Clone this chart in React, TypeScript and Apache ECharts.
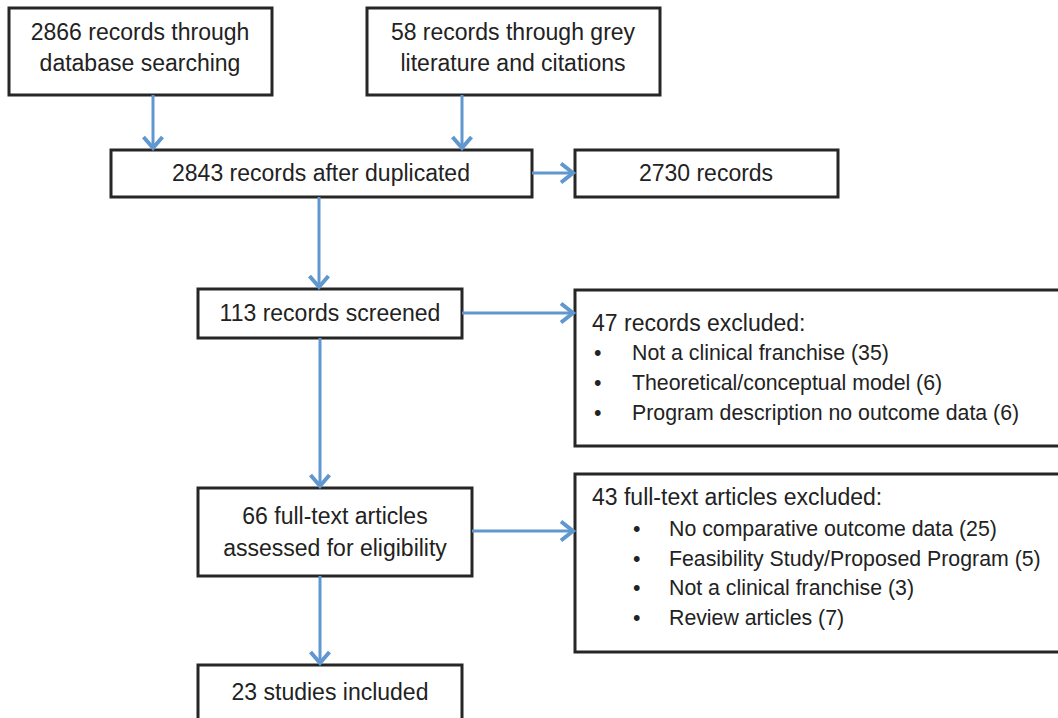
import React, { useEffect, useRef } from "react";
import * as echarts from "echarts";

// ---- content (texts only) ----
const sourceLabels = ["2866 records through", "database searching"];
const greyLabels = ["58 records through grey", "literature and citations"];
const dedupLabel = "2843 records after duplicated";
const removedLabel = "2730 records";
const screenedLabel = "113 records screened";
const fullTextLabels = ["66 full-text articles", "assessed for eligibility"];
const includedLabel = "23 studies included";
const screenExclTitle = "47 records excluded:";
const screenExclItems = [
  "Not a clinical franchise (35)",
  "Theoretical/conceptual model (6)",
  "Program description no outcome data (6)",
];
const fullExclTitle = "43 full-text articles excluded:";
const fullExclItems = [
  "No comparative outcome data (25)",
  "Feasibility Study/Proposed Program (5)",
  "Not a clinical franchise (3)",
  "Review articles (7)",
];

const FONT = '23px "Liberation Sans", Arial, sans-serif';
const ITEM_FONT = '21.3px "Liberation Sans", Arial, sans-serif';
const TXT = "#222222";
const BORDER = "#262626";
const ARROW = "#6097cf";

function box(x: number, y: number, w: number, h: number) {
  return {
    type: "rect",
    shape: { x, y, width: w, height: h },
    style: { fill: "#ffffff", stroke: BORDER, lineWidth: 3 },
    z: 1,
  };
}

function text(t: string, x: number, y: number, align = "center", font = FONT) {
  return {
    type: "text",
    style: {
      text: t,
      x,
      y,
      font,
      fill: TXT,
      textAlign: align,
      textVerticalAlign: "middle",
    },
    z: 3,
  };
}

function arrowDown(x: number, y1: number, y2: number) {
  return [
    {
      type: "line",
      shape: { x1: x, y1, x2: x, y2: y2 - 2 },
      style: { stroke: ARROW, lineWidth: 3 },
      z: 2,
    },
    {
      type: "polyline",
      shape: { points: [[x - 9.5, y2 - 13], [x, y2 - 2], [x + 9.5, y2 - 13]] },
      style: { stroke: ARROW, lineWidth: 4, fill: "none" },
      z: 2,
    },
  ];
}

function arrowRight(y: number, x1: number, x2: number) {
  return [
    {
      type: "line",
      shape: { x1, y1: y, x2: x2 - 2, y2: y },
      style: { stroke: ARROW, lineWidth: 3 },
      z: 2,
    },
    {
      type: "polyline",
      shape: { points: [[x2 - 14, y - 9.5], [x2 - 2, y], [x2 - 14, y + 9.5]] },
      style: { stroke: ARROW, lineWidth: 4, fill: "none" },
      z: 2,
    },
  ];
}

export default function App() {
  const ref = useRef<HTMLDivElement>(null);
  useEffect(() => {
    if (!ref.current) return;
    const chart = echarts.init(ref.current, undefined, { renderer: "svg" });
    const elements: any[] = [];
    // boxes
    elements.push(box(9, 8, 263, 87));
    elements.push(box(367, 8, 293, 87));
    elements.push(box(111, 150, 421, 47));
    elements.push(box(575, 150, 263, 47));
    elements.push(box(198, 289, 264, 49));
    elements.push(box(575, 290, 500, 156));
    elements.push(box(198, 488, 274, 88));
    elements.push(box(575, 474, 500, 178));
    elements.push(box(198, 665, 264, 70));
    // arrows
    elements.push(...arrowDown(153, 95, 150));
    elements.push(...arrowDown(462, 95, 150));
    elements.push(...arrowRight(173, 532, 575));
    elements.push(...arrowDown(319, 197, 289));
    elements.push(...arrowRight(313, 462, 575));
    elements.push(...arrowDown(320, 338, 488));
    elements.push(...arrowRight(531, 472, 575));
    elements.push(...arrowDown(320, 576, 665));
    // texts
    sourceLabels.forEach((t, i) => elements.push(text(t, 140, 32 + i * 31)));
    greyLabels.forEach((t, i) => elements.push(text(t, 513, 32 + i * 31)));
    elements.push(text(dedupLabel, 321, 173));
    elements.push(text(removedLabel, 706, 173));
    elements.push(text(screenedLabel, 330, 313));
    elements.push(text(screenExclTitle, 592, 323, "left"));
    screenExclItems.forEach((t, i) => {
      elements.push(text("•", 594, 353 + i * 30, "left", ITEM_FONT));
      elements.push(text(t, 632, 353 + i * 30, "left", ITEM_FONT));
    });
    fullTextLabels.forEach((t, i) => elements.push(text(t, 335, 516 + i * 32)));
    elements.push(text(fullExclTitle, 592, 497, "left"));
    fullExclItems.forEach((t, i) => {
      elements.push(text("•", 633, 529 + i * 29.7, "left", ITEM_FONT));
      elements.push(text(t, 669, 529 + i * 29.7, "left", ITEM_FONT));
    });
    elements.push(text(includedLabel, 330, 692));

    chart.setOption({
      animation: false,
      backgroundColor: "#ffffff",
      graphic: { elements },
    });
    return () => chart.dispose();
  }, []);
  return (
    <div
      ref={ref}
      style={{ position: "fixed", left: 0, top: 0, width: 1058, height: 718, background: "#fff" }}
    />
  );
}
